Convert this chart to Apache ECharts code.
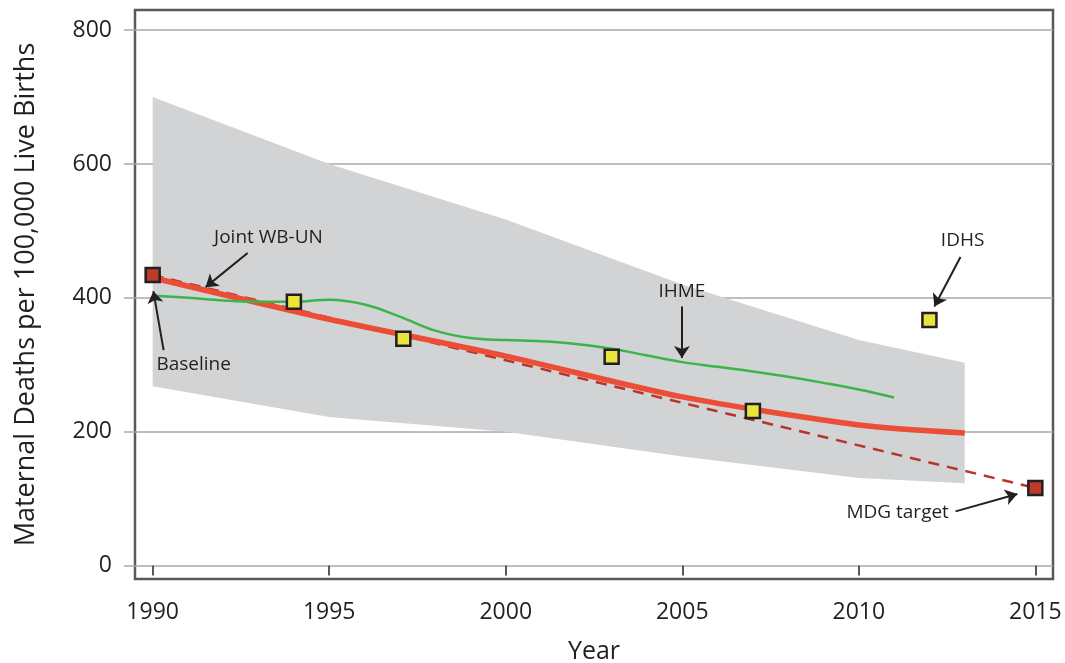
<!DOCTYPE html>
<html><head><meta charset="utf-8">
<script src="https://cdn.jsdelivr.net/npm/echarts@6/dist/echarts.min.js"></script>
<style>html,body{margin:0;padding:0;background:#fff}#c{width:1065px;height:663px}</style>
</head><body><div id="c"></div>
<script>
// ---- data ----
const bandYears  = [1990, 1995, 2000, 2005, 2010, 2013];
const bandLower  = [268, 222, 200, 163, 131, 123];
const bandUpper  = [700, 600, 517, 420, 337, 303];

const wbunYears  = [1990, 1995, 2000, 2005, 2010, 2013];
const wbunValues = [430, 368, 313, 252, 210, 198];

const ihmeYears  = [1990,1991,1992,1993,1994,1995,1996,1997,1998,1999,2000,2001,2002,2003,2004,2005,2006,2007,2008,2009,2010,2011];
const ihmeValues = [403, 400, 396, 394, 394, 397, 390, 372, 351, 340, 337, 335, 331, 324, 314, 304, 297, 290, 282, 273, 263, 251];

const otherYears  = [1994, 1997.1, 2003, 2007, 2012];
const otherValues = [394, 339, 312, 231, 367];

const mdgYears  = [1990, 2015];
const mdgValues = [434, 116];

const xTicks = [1990, 1995, 2000, 2005, 2010, 2015];
const yTicks = [0, 200, 400, 600, 800];

const annotationTexts = ['Joint WB-UN', 'Baseline', 'IHME', 'IDHS', 'MDG target'];
const annotationTextAt = [[1993.28, 490], [1991.16, 300], [2004.99, 409], [2012.94, 485], [2011.10, 79]];
const annotationArrowFrom = [[1992.69, 467], [1990.31, 322], [2004.99, 387], [2012.88, 461], [2012.74, 81]];
const annotationArrowTo   = [[1991.50, 416], [1990.02, 410], [2004.99, 310], [2012.14, 387], [2014.49, 107]];

// ---- build ----
const zip = (a, b) => a.map((v, i) => [v, b[i]]);
const FONT = 'Open Sans';
const TXT = '#231f20';

const chart = echarts.init(document.getElementById('c'), null, {renderer: 'canvas'});
chart.setOption({
  animation: false,
  backgroundColor: '#fff',
  grid: {left: 135, right: 12, top: 10, bottom: 84, show: true, borderColor: '#58595b', borderWidth: 2.5,
    backgroundColor: 'transparent', containLabel: false, outerBoundsMode: 'none'},
  xAxis: {
    type: 'value', min: 1989.5, max: 2015.5,
    name: 'Year', nameLocation: 'middle', nameGap: 60,
    nameTextStyle: {fontFamily: FONT, fontSize: 25, color: TXT},
    axisLine: {show: false},
    axisTick: {show: true, length: 10, inside: false, customValues: xTicks, lineStyle: {color: '#58595b', width: 2}},
    axisLabel: {customValues: xTicks, fontFamily: FONT, fontSize: 23, color: TXT, margin: 22, formatter: v => String(v)},
    splitLine: {show: false}
  },
  yAxis: {
    type: 'value', min: -20, max: 830,
    name: 'Maternal Deaths per 100,000 Live Births', nameLocation: 'middle', nameGap: 95, nameRotate: 90,
    nameTextStyle: {fontFamily: FONT, fontSize: 27, color: TXT},
    axisLine: {show: false},
    axisTick: {show: true, length: 11, inside: false, customValues: yTicks, lineStyle: {color: '#a7a9ac', width: 1.5}},
    axisLabel: {customValues: yTicks, fontFamily: FONT, fontSize: 23, color: TXT, margin: 23},
    splitLine: {show: true, lineStyle: {color: '#a7a9ac', width: 1.5}}
  },
  series: [
    {type: 'custom', name: 'band', data: [[bandYears[0], bandLower[0]]], silent: true, z: 1,
      renderItem: (params, api) => {
        const top = bandYears.map((y, i) => api.coord([y, bandUpper[i]]));
        const bottom = bandYears.map((y, i) => api.coord([y, bandLower[i]])).reverse();
        return {type: 'polygon', shape: {points: top.concat(bottom)}, style: {fill: '#d1d3d4'}};
      }},
    {type: 'line', name: 'MDG path', data: zip(mdgYears, mdgValues), symbol: 'none',
      lineStyle: {color: '#b8332b', width: 2.5, type: [11, 8]}, z: 3},
    {type: 'line', name: 'Joint WB-UN', data: zip(wbunYears, wbunValues), symbol: 'none', smooth: 0.25,
      lineStyle: {color: '#eb4d36', width: 5.5}, z: 4},
    {type: 'line', name: 'IHME', data: zip(ihmeYears, ihmeValues), symbol: 'none', smooth: 0.4,
      lineStyle: {color: '#3bb54a', width: 2.5}, z: 4},
    {type: 'scatter', name: 'Other', data: zip(otherYears, otherValues), symbol: 'rect', symbolSize: 14,
      itemStyle: {color: '#ebe53b', borderColor: '#231f20', borderWidth: 2.5, opacity: 1}, z: 6},
    {type: 'scatter', name: 'Baseline/Target', data: zip(mdgYears, mdgValues), symbol: 'rect', symbolSize: 14,
      itemStyle: {color: '#be3a2b', borderColor: '#231f20', borderWidth: 2.5, opacity: 1}, z: 6},
    {type: 'scatter', name: 'annotations', data: [], z: 7,
      markLine: {
        silent: true, symbol: ['none', 'arrow'], symbolSize: 12, animation: false,
        lineStyle: {color: '#231f20', width: 2, type: 'solid'}, label: {show: false},
        data: annotationArrowFrom.map((f, i) => [{coord: f}, {coord: annotationArrowTo[i]}])
      },
      markPoint: {
        silent: true, symbol: 'rect', symbolSize: 1, itemStyle: {color: 'rgba(0,0,0,0)'},
        label: {show: true, position: 'inside', fontFamily: FONT, fontSize: 19, color: TXT, formatter: p => p.name},
        data: annotationTexts.map((t, i) => ({name: t, coord: annotationTextAt[i]}))
      }
    }
  ]
});
</script></body></html>
